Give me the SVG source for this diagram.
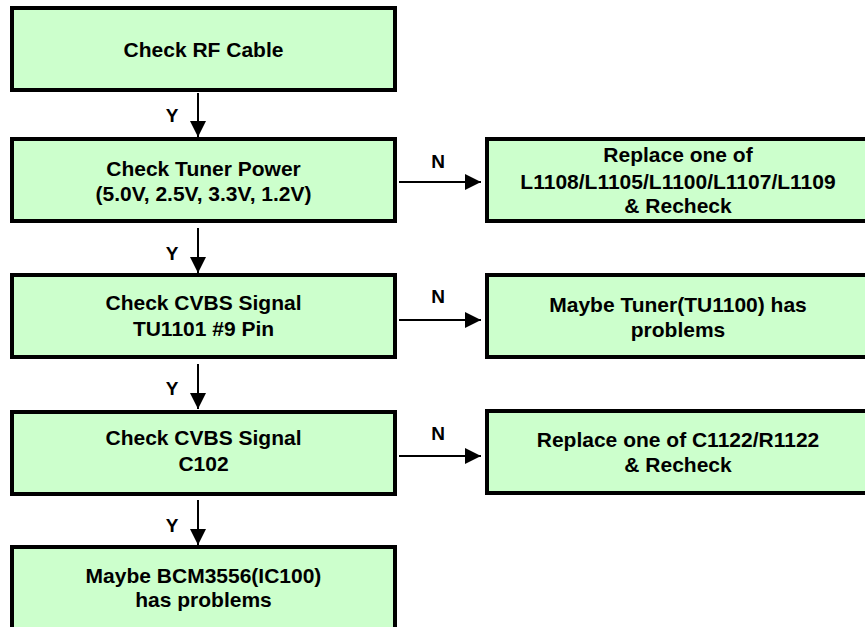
<svg xmlns="http://www.w3.org/2000/svg" width="865" height="627" viewBox="0 0 865 627">
<style>
.box{fill:#CCFFCC;stroke:#000;stroke-width:4}
.t{font-family:"Liberation Sans",Arial,sans-serif;font-weight:bold;font-size:21px;fill:#000;text-anchor:middle}
.lbl{font-family:"Liberation Sans",Arial,sans-serif;font-weight:bold;font-size:19px;fill:#000;text-anchor:middle}
.c{stroke:#000;stroke-width:2;fill:none;marker-end:url(#ah)}
</style>
<defs>
<marker id="ah" markerUnits="userSpaceOnUse" markerWidth="16" markerHeight="16" refX="16" refY="8" orient="auto">
<path d="M0,0 L16,8 L0,16 Z" fill="#000"/>
</marker>
</defs>
<rect width="865" height="627" fill="#fff"/>
<g id="connectors">
<line class="c" x1="198" y1="93" x2="198" y2="137"/>
<line class="c" x1="198" y1="228" x2="198" y2="273"/>
<line class="c" x1="198" y1="364" x2="198" y2="409"/>
<line class="c" x1="198" y1="500" x2="198" y2="545"/>
<line class="c" x1="399" y1="182" x2="481" y2="182"/>
<line class="c" x1="399" y1="320" x2="481" y2="320"/>
<line class="c" x1="399" y1="456" x2="481" y2="456"/>
<text class="lbl" x="172" y="122">Y</text>
<text class="lbl" x="172" y="260">Y</text>
<text class="lbl" x="172" y="395">Y</text>
<text class="lbl" x="172" y="532">Y</text>
<text class="lbl" x="438" y="168">N</text>
<text class="lbl" x="438" y="303">N</text>
<text class="lbl" x="438" y="440">N</text>
</g>
<g id="n1">
<rect class="box" x="12" y="8" width="383" height="82"/>
<text class="t" x="203.5" y="57">Check RF Cable</text>
</g>
<g id="n2">
<rect class="box" x="12" y="139" width="383" height="82"/>
<text class="t" x="203.5" y="176">Check Tuner Power</text>
<text class="t" x="203.5" y="201">(5.0V, 2.5V, 3.3V, 1.2V)</text>
</g>
<g id="n3">
<rect class="box" x="12" y="275" width="383" height="82"/>
<text class="t" x="203.5" y="310">Check CVBS Signal</text>
<text class="t" x="203.5" y="336">TU1101 #9 Pin</text>
</g>
<g id="n4">
<rect class="box" x="12" y="412" width="383" height="82"/>
<text class="t" x="203.5" y="445">Check CVBS Signal</text>
<text class="t" x="203.5" y="471">C102</text>
</g>
<g id="n5">
<rect class="box" x="12" y="547" width="383" height="100"/>
<text class="t" x="203.5" y="583">Maybe BCM3556(IC100)</text>
<text class="t" x="203.5" y="607">has problems</text>
</g>
<g id="r1">
<rect class="box" x="487" y="139" width="383" height="82"/>
<text class="t" x="678" y="162">Replace one of</text>
<text class="t" x="678" y="189">L1108/L1105/L1100/L1107/L1109</text>
<text class="t" x="678" y="213">&amp; Recheck</text>
</g>
<g id="r2">
<rect class="box" x="487" y="275" width="383" height="82"/>
<text class="t" x="678" y="312">Maybe Tuner(TU1100) has</text>
<text class="t" x="678" y="337">problems</text>
</g>
<g id="r3">
<rect class="box" x="487" y="411" width="383" height="82"/>
<text class="t" x="678" y="447">Replace one of C1122/R1122</text>
<text class="t" x="678" y="472">&amp; Recheck</text>
</g>
</svg>
